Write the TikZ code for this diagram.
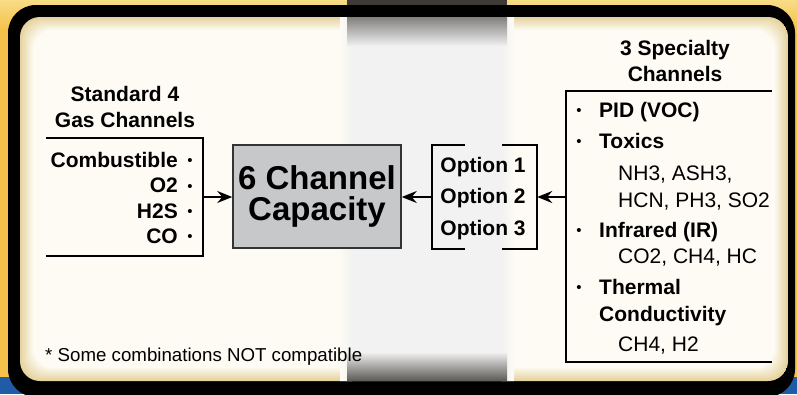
\documentclass[tikz,border=0pt]{standalone}
\usepackage{fontspec}
\setmainfont{Liberation Sans}
\usetikzlibrary{arrows.meta}
\definecolor{bgyellow}{HTML}{F4C24A}
\definecolor{paleyellow}{HTML}{F8DC86}
\definecolor{cream}{HTML}{FDFBF3}
\definecolor{creamedge}{HTML}{E6D3A0}
\definecolor{bandgray}{HTML}{F2F2F2}
\definecolor{banddark}{HTML}{3E3A36}
\definecolor{boxgray}{HTML}{C7C8CA}
\definecolor{blueb}{HTML}{1F5BA6}
\begin{document}
\begin{tikzpicture}[x=1pt,y=-1pt,
  bold/.style={font=\bfseries\fontsize{21}{25}\selectfont, inner sep=0pt},
  reg/.style={font=\fontsize{21}{25}\selectfont, inner sep=0pt},
  dot/.style={font=\fontsize{15}{18}\selectfont, inner sep=0pt, anchor=base},
  foot/.style={font=\fontsize{18.7}{22}\selectfont, inner sep=0pt},
  boxline/.style={line width=2pt, black},
  arr/.style={line width=2pt, black, -{Stealth[length=15pt,width=12pt,inset=5pt]}}]
\useasboundingbox (0,0) rectangle (797,394);
% background
\fill[bgyellow] (0,0) rectangle (797,394);
\shade[top color=paleyellow, bottom color=bgyellow] (0,0) rectangle (797,30);
\fill[blueb] (0,377) rectangle (32,394);
\fill[blueb] (765,377) rectangle (797,394);
\fill[banddark] (347,0) rectangle (507,8);
% frame
\fill[black, rounded corners=28] (8,5) rectangle (795,397);
\begin{scope}
  \clip[rounded corners=20] (20,17) rectangle (788,381);
  \foreach \i in {0,...,8} {
    \pgfmathtruncatemacro\p{\i*100/8}
    \fill[cream!\p!creamedge, rounded corners=20] (20+\i*1.6,17+\i*1.6) rectangle (788-\i*1.6,381-\i*1.6);
  }
  % grey band
  \fill[bandgray] (352,17) rectangle (502,381);
  \shade[left color=cream, right color=bandgray] (340,17) rectangle (352,381);
  \shade[left color=bandgray, right color=cream] (502,17) rectangle (514,381);
  \shade[top color=banddark!65, bottom color=bandgray] (347,17) rectangle (507,46);
  \shade[top color=bandgray, bottom color=banddark!85] (347,352) rectangle (507,381);
\end{scope}
% left box
\node[inner sep=0pt, minimum width=157, minimum height=118] (std) at (124.5,197) {};
\draw[boxline] (std.north west) -- (std.north east) -- (std.south east) -- (std.south west);
\node[bold, anchor=base] (stdt1) at (125,101) {Standard 4};
\node[bold, anchor=base] (stdt2) at (125,127) {Gas Channels};
\node[bold, anchor=base east] (s1) at (178,167) {Combustible};
\node[bold, anchor=base east] (s2) at (178,192.5) {O2};
\node[bold, anchor=base east] (s3) at (178,218) {H2S};
\node[bold, anchor=base east] (s4) at (178,243) {CO};
\node[dot] (d1) at (190,165.5) {•};
\node[dot] (d2) at (190,191) {•};
\node[dot] (d3) at (190,216.5) {•};
\node[dot] (d4) at (190,241.5) {•};
% capacity box
\node[draw=black!80, line width=1.5pt, fill=boxgray, minimum width=168, minimum height=103, inner sep=2pt, align=center,
      font=\bfseries\fontsize{33}{31}\selectfont] (cap) at (317,196.5) {6 Channel\\Capacity};
% options
\node[inner sep=0pt, minimum width=105, minimum height=104] (opt) at (484.5,197) {};
\draw[boxline] (opt.north west) ++(33,0) -- (opt.north west) -- (opt.south west) -- ++(33,0);
\draw[boxline] (opt.north east) ++(-35,0) -- (opt.north east) -- (opt.south east) -- ++(-35,0);
\node[bold, anchor=base] (o1) at (483,172) {Option 1};
\node[bold, anchor=base] (o2) at (483,203.5) {Option 2};
\node[bold, anchor=base] (o3) at (483,235) {Option 3};
% specialty
\node[inner sep=0pt, minimum width=206, minimum height=271] (spec) at (669,226.5) {};
\draw[boxline] (spec.north east) -- (spec.north west) -- (spec.south west) -- (spec.south east);
\node[bold, anchor=base] (spt1) at (675,55) {3 Specialty};
\node[bold, anchor=base] (spt2) at (675,81) {Channels};
\node[dot] (b1) at (579,115.5) {•};
\node[dot] (b2) at (579,146.5) {•};
\node[dot] (b3) at (579,235.5) {•};
\node[dot] (b4) at (579,292.5) {•};
\node[bold, anchor=base west] (p1) at (599,117) {PID (VOC)};
\node[bold, anchor=base west] (p2) at (599,148) {Toxics};
\node[reg, anchor=base west] (p2a) at (618,180) {NH3, ASH3,};
\node[reg, anchor=base west] (p2b) at (618,207) {HCN, PH3, SO2};
\node[bold, anchor=base west] (p3) at (599,237) {Infrared (IR)};
\node[reg, anchor=base west] (p3a) at (618,263) {CO2, CH4, HC};
\node[bold, anchor=base west] (p4) at (599,294) {Thermal};
\node[bold, anchor=base west] (p4b) at (599,321) {Conductivity};
\node[reg, anchor=base west] (p4a) at (618,351) {CH4, H2};
% arrows
\draw[arr] (std.east) -- (cap.west |- std.east);
\draw[arr] (opt.west) -- (cap.east |- opt.west);
\draw[arr] (spec.west |- opt.east) -- (opt.east);
% footnote
\node[foot, anchor=base west] (fn) at (45,361) {* Some combinations NOT compatible};
\end{tikzpicture}
\end{document}
